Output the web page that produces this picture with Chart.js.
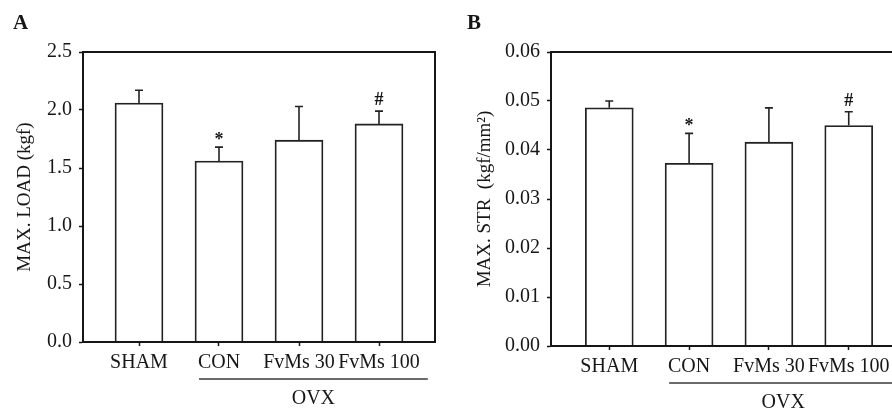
<!DOCTYPE html>
<html><head><meta charset="utf-8">
<script src="https://cdn.jsdelivr.net/npm/chart.js@4/dist/chart.umd.min.js"></script>
<style>
html,body{margin:0;padding:0;width:892px;height:414px;overflow:hidden;background:#fff;}
#wa{position:absolute;left:0;top:0;width:450px;height:414px;}
#wb{position:absolute;left:450px;top:0;width:470px;height:414px;}
canvas{display:block;}
</style></head><body>
<div id="wa"><canvas id="ca" width="450" height="414"></canvas></div>
<div id="wb"><canvas id="cb" width="470" height="414"></canvas></div>
<script>
// ---- data ----
const categories = ['SHAM', 'CON', 'FvMs 30', 'FvMs 100'];
const loadMeans = [2.06, 1.56, 1.74, 1.88];
const loadSD    = [0.11, 0.12, 0.29, 0.11];
const strMeans  = [0.0486, 0.0373, 0.0416, 0.0450];
const strSD     = [0.0014, 0.0061, 0.0070, 0.0028];
const marks     = ['', '*', '', '#'];
const loadTicks = [0, 0.5, 1.0, 1.5, 2.0, 2.5];
const strTicks  = [0, 0.01, 0.02, 0.03, 0.04, 0.05, 0.06];
const groupLabel = 'OVX';
const groupFrom = 1, groupTo = 3;

const INK = '#161616';
const SERIF = "'Liberation Serif', 'Times New Roman', serif";

function makeChart(id, cfg) {
  const decor = {
    id: 'decor',
    afterDatasetsDraw(chart) {
      const {ctx, chartArea: a, scales: {x, y}} = chart;
      ctx.save();
      // frame
      ctx.strokeStyle = INK; ctx.lineWidth = 2;
      ctx.strokeRect(a.left, a.top, a.right - a.left, a.bottom - a.top);
      // error bars (upper only)
      ctx.lineWidth = 1.6;
      ctx.strokeStyle = '#222';
      ctx.fillStyle = INK;
      cfg.means.forEach((m, i) => {
        const px = x.getPixelForValue(i);
        const y0 = y.getPixelForValue(m);
        const y1 = y.getPixelForValue(m + cfg.sd[i]);
        ctx.beginPath();
        ctx.moveTo(px, y0); ctx.lineTo(px, y1);
        ctx.moveTo(px - 4, y1); ctx.lineTo(px + 4, y1);
        ctx.stroke();
        if (marks[i]) {
          ctx.font = 'bold 18px ' + SERIF;
          ctx.textAlign = 'center';
          ctx.textBaseline = 'alphabetic';
          ctx.fillText(marks[i], px, y1 - (marks[i] === '*' ? 2.5 : 6));
        }
      });
      // group line + label
      const gx0 = x.getPixelForValue(groupFrom - 0.25);
      const gx1 = x.getPixelForValue(groupTo + 0.61);
      const gy = a.bottom + 37;
      ctx.strokeStyle = '#3a3a3a'; ctx.lineWidth = 1.6;
      ctx.beginPath(); ctx.moveTo(gx0, gy); ctx.lineTo(gx1, gy); ctx.stroke();
      ctx.fillStyle = INK;
      ctx.font = '20px ' + SERIF;
      ctx.textAlign = 'center'; ctx.textBaseline = 'middle';
      ctx.fillText(groupLabel, (gx0 + gx1) / 2, gy + 19.5);
      // panel letter
      ctx.font = 'bold 21px ' + SERIF;
      ctx.textAlign = 'left'; ctx.textBaseline = 'alphabetic';
      ctx.fillText(cfg.letter, cfg.letterX, 28.5);
      ctx.restore();
    }
  };
  return new Chart(document.getElementById(id), {
    type: 'bar',
    data: {
      datasets: [{
        data: cfg.means.map((m, i) => ({x: i, y: m})),
        backgroundColor: '#ffffff',
        borderColor: '#222',
        borderWidth: 1.8,
        barThickness: 48
      }]
    },
    options: {
      responsive: false,
      animation: false,
      events: [],
      layout: {padding: {left: 0, top: cfg.top, right: cfg.right, bottom: 0}},
      plugins: {legend: {display: false}, tooltip: {enabled: false}},
      scales: {
        x: {
          type: 'linear',
          offset: false,
          min: -cfg.pad, max: 3 + cfg.pad,
          afterBuildTicks: s => { s.ticks = categories.map((c, i) => ({value: i})); },
          afterFit: s => { s.height = cfg.xHeight; },
          ticks: {
            callback: v => categories[v],
            color: INK, font: {family: SERIF, size: 20}, padding: 5,
            maxRotation: 0, autoSkip: false
          },
          grid: {offset: false, drawOnChartArea: false, drawTicks: true, tickLength: 4, tickColor: INK, tickWidth: 1.5},
          border: {display: true, color: INK, width: 2}
        },
        y: {
          min: 0, max: cfg.ticks[cfg.ticks.length - 1],
          afterBuildTicks: s => { s.ticks = cfg.ticks.map(v => ({value: v})); },
          afterFit: s => { s.width = cfg.yWidth; },
          ticks: {
            callback: v => v.toFixed(cfg.dec),
            color: INK, font: {family: SERIF, size: 20}, padding: 7
          },
          grid: {drawOnChartArea: false, drawTicks: true, tickLength: 4, tickColor: INK, tickWidth: 1.5},
          border: {display: true, color: INK, width: 2},
          title: {
            display: true, text: cfg.title, color: INK,
            font: {family: SERIF, size: 19}, padding: {top: cfg.titlePad, bottom: 0}
          }
        }
      }
    },
    plugins: [decor]
  });
}

makeChart('ca', {
  means: loadMeans, sd: loadSD, ticks: loadTicks, dec: 1,
  title: 'MAX. LOAD (kgf)', titlePad: 14,
  letter: 'A', letterX: 13,
  top: 52, right: 15, xHeight: 72, yWidth: 83, pad: 0.7
});
makeChart('cb', {
  means: strMeans, sd: strSD, ticks: strTicks, dec: 2,
  title: 'MAX. STR  (kgf/mm\u00B2)', titlePad: 24,
  letter: 'B', letterX: 17,
  top: 52, right: 13, xHeight: 68, yWidth: 101, pad: 0.73
});
</script>
</body></html>
